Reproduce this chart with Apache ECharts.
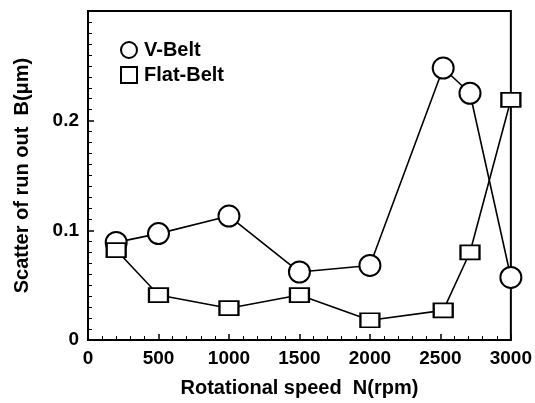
<!DOCTYPE html>
<html>
<head>
<meta charset="utf-8">
<script src="https://cdn.jsdelivr.net/npm/echarts@6/dist/echarts.min.js"></script>
<style>html,body{margin:0;padding:0;background:#fff;}#c{width:535px;height:403px;}</style>
</head>
<body>
<div id="c"></div>
<script>
const speeds = [200, 500, 1000, 1500, 2000, 2520, 2710, 3000];
const vBelt = [0.089, 0.097, 0.113, 0.062, 0.068, 0.248, 0.225, 0.057];
const flatBelt = [0.082, 0.041, 0.029, 0.041, 0.018, 0.027, 0.080, 0.219];
const seriesNames = ['V-Belt', 'Flat-Belt'];
const xTitle = 'Rotational speed  N(rpm)';
const yTitle = 'Scatter of run out  B(\u03bcm)';

const font = 'Liberation Sans, Arial, Helvetica, sans-serif';
const chart = echarts.init(document.getElementById('c'), null, {renderer: 'canvas'});
chart.setOption({
  animation: false,
  backgroundColor: '#fff',
  grid: {left: 88, right: 22, top: 11, bottom: 63, show: true, borderColor: '#000', borderWidth: 2},
  legend: {
    orient: 'vertical', left: 115, top: 35, itemGap: 5, itemWidth: 16, itemHeight: 16,
    data: [{name: seriesNames[0], icon: 'circle'}, {name: seriesNames[1], icon: 'rect'}],
    itemStyle: {color: '#fff', borderColor: '#000', borderWidth: 2},
    textStyle: {fontFamily: font, fontWeight: 'bold', fontSize: 20, color: '#000', padding: [0, 0, 0, 2]}
  },
  xAxis: {
    type: 'value', min: 0, max: 3000, interval: 500,
    name: xTitle, nameLocation: 'middle', nameGap: 38,
    nameTextStyle: {fontFamily: font, fontWeight: 'bold', fontSize: 20, color: '#000'},
    axisLine: {lineStyle: {color: '#000', width: 2}},
    axisTick: {inside: true, length: 6, lineStyle: {color: '#000', width: 1.5}},
    minorTick: {show: true, splitNumber: 5, length: 4, lineStyle: {color: '#000', width: 1}},
    splitLine: {show: false},
    axisLabel: {margin: 9, fontFamily: font, fontWeight: 'bold', fontSize: 19, color: '#000',
      formatter: v => String(v)}
  },
  yAxis: {
    type: 'value', min: 0, max: 0.3, interval: 0.1,
    name: yTitle, nameLocation: 'middle', nameGap: 56, nameRotate: 90,
    nameTextStyle: {fontFamily: font, fontWeight: 'bold', fontSize: 20, color: '#000'},
    axisLine: {lineStyle: {color: '#000', width: 2}},
    axisTick: {inside: true, length: 6, lineStyle: {color: '#000', width: 1.5}},
    minorTick: {show: true, splitNumber: 10, length: 4, lineStyle: {color: '#000', width: 1}},
    splitLine: {show: false},
    axisLabel: {margin: 9, fontFamily: font, fontWeight: 'bold', fontSize: 19, color: '#000',
      formatter: v => (v > 0.25 ? '' : String(Math.round(v * 10) / 10))}
  },
  series: [
    {
      name: seriesNames[0], type: 'line', data: speeds.map((s, i) => [s, vBelt[i]]),
      symbol: 'circle', symbolSize: 21, z: 3,
      lineStyle: {color: '#000', width: 1.6},
      itemStyle: {color: '#fff', borderColor: '#000', borderWidth: 2}
    },
    {
      name: seriesNames[1], type: 'line', data: speeds.map((s, i) => [s, flatBelt[i]]),
      symbol: 'rect', symbolSize: [19, 14], z: 4,
      lineStyle: {color: '#000', width: 1.6},
      itemStyle: {color: '#fff', borderColor: '#000', borderWidth: 2}
    }
  ]
});
</script>
</body>
</html>
